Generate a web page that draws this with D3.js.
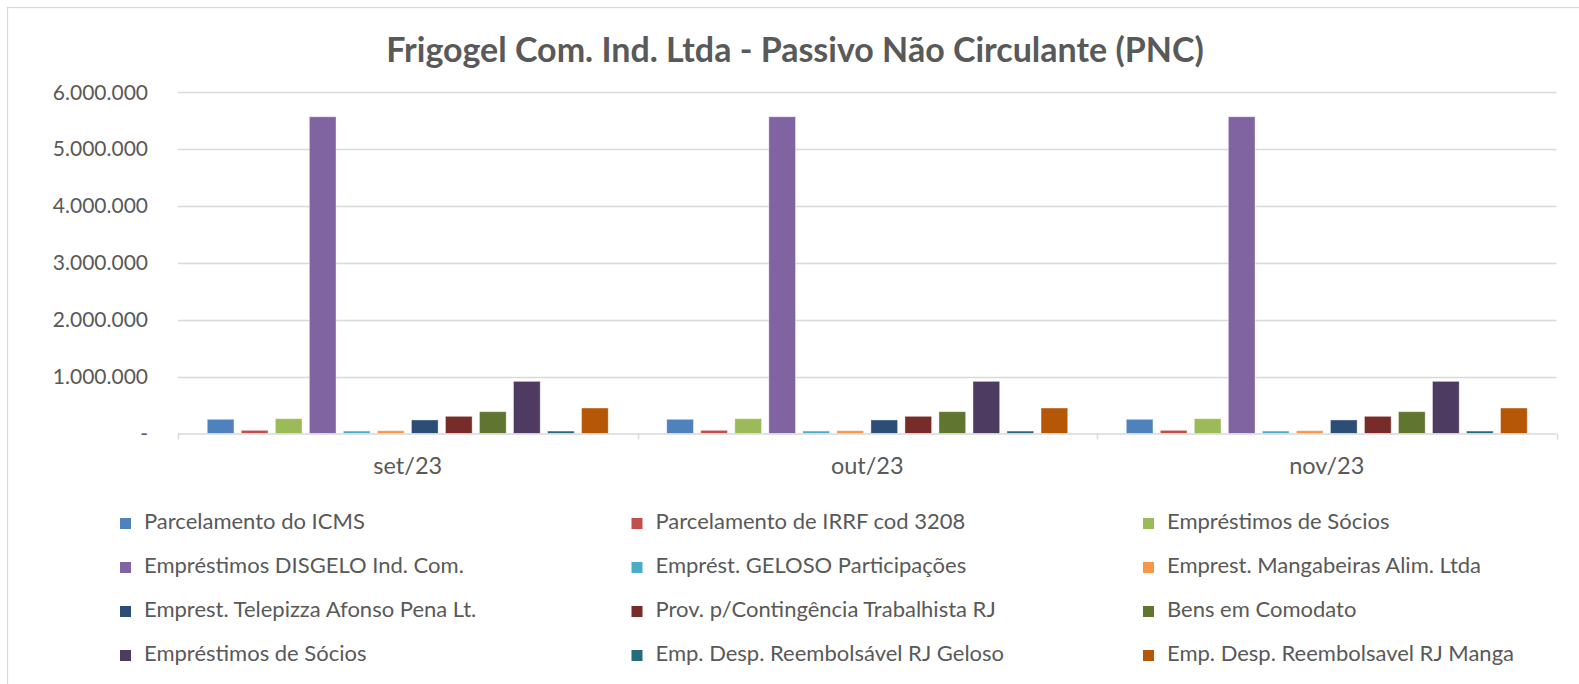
<!DOCTYPE html>
<html>
<head>
<meta charset="utf-8">
<script src="https://cdn.jsdelivr.net/npm/d3@7"></script>
<style>
  body { margin: 0; background: #fff; }
  text { font-family: Lato, "Open Sans", sans-serif; fill: #595959; }
</style>
</head>
<body>
<svg id="chart" width="1579" height="684"></svg>
<script>
// Meses
const meses = ["set/23", "out/23", "nov/23"]

// Contas do passivo (ordem da legenda)
const contas = [
  "Parcelamento do ICMS",
  "Parcelamento de IRRF cod 3208",
  "Empréstimos de Sócios",
  "Empréstimos DISGELO Ind. Com.",
  "Emprést. GELOSO Participações",
  "Emprest. Mangabeiras Alim. Ltda",
  "Emprest. Telepizza Afonso Pena Lt.",
  "Prov. p/Contingência Trabalhista RJ",
  "Bens em Comodato",
  "Empréstimos de Sócios ",
  "Emp. Desp. Reembolsável RJ Geloso",
  "Emp. Desp. Reembolsavel RJ Manga"
]

const cores = ["#4f81bd", "#c0504d", "#9bbb59", "#8064a2", "#4bacc6", "#f79646",
               "#2c4d75", "#772c2a", "#5f7530", "#4d3b62", "#276a7c", "#b65708"]

// Valores por mês (mesma ordem das contas)
const valoresSet = [252000, 58000, 262000, 5570000, 45000, 50000, 240000, 304000, 385000, 919000, 45000, 450000]
const valoresOut = [252000, 58000, 262000, 5570000, 45000, 50000, 240000, 304000, 385000, 919000, 45000, 450000]
const valoresNov = [252000, 58000, 262000, 5570000, 45000, 50000, 240000, 304000, 385000, 919000, 45000, 450000]

const yTicks = [0, 1000000, 2000000, 3000000, 4000000, 5000000, 6000000]

const dados = meses.map((m, i) => ({
  mes: m,
  valores: [valoresSet, valoresOut, valoresNov][i]
}))

const svg = d3.select('#chart')

// moldura
svg.append('rect')
  .attr('x', 7.5).attr('y', 7.5)
  .attr('width', 1600).attr('height', 700)
  .attr('fill', 'none')
  .attr('stroke', '#d9d9d9')
  .attr('stroke-width', 1.3)

// titulo
svg.append('text')
  .text('Frigogel Com. Ind. Ltda - Passivo Não Circulante (PNC)')
  .attr('x', 795)
  .attr('y', 53)
  .attr('text-anchor', 'middle')
  .attr('dominant-baseline', 'middle')
  .attr('font-weight', 'bold')
  .attr('font-size', '34px')

// escalas
const x0 = d3.scaleBand()
  .domain(meses)
  .range([178, 1556.5])

const x1 = d3.scaleBand()
  .domain(d3.range(contas.length))
  .range([0, x0.bandwidth()])
  .paddingInner(0.215)
  .paddingOuter(0.86)

const y = d3.scaleLinear()
  .domain([0, 6000000])
  .range([433.6, 92.3])

const fmt = d => d === 0 ? '-' : d3.format(',')(d).replace(/,/g, '.')

// grade
svg.append('g')
  .selectAll('line')
  .data(yTicks.filter(d => d > 0))
  .join('line')
  .attr('x1', 178).attr('x2', 1556.5)
  .attr('y1', d => Math.round(y(d)) + 0.5)
  .attr('y2', d => Math.round(y(d)) + 0.5)
  .attr('stroke', '#d9d9d9')
  .attr('stroke-width', 1.3)

// eixo y
const yAxis = d3.axisLeft(y)
  .tickValues(yTicks)
  .tickFormat(fmt)
  .tickSize(0)
  .tickPadding(0)

svg.append('g')
  .attr('transform', 'translate(148,0)')
  .call(yAxis)
  .call(g => g.select('.domain').remove())
  .selectAll('text')
  .attr('font-size', '21px')
  .attr('font-family', 'Lato, sans-serif')
  .attr('fill', '#595959')

// barras
svg.append('g')
  .selectAll('g')
  .data(dados)
  .join('g')
  .attr('transform', d => `translate(${x0(d.mes)},0)`)
  .selectAll('rect')
  .data(d => d.valores.map((v, i) => ({ i, v })))
  .join('rect')
  .attr('x', d => x1(d.i))
  .attr('y', d => y(d.v))
  .attr('width', x1.bandwidth())
  .attr('height', d => y(0) - y(d.v))
  .attr('fill', d => cores[d.i])
  .attr('stroke', '#ffffff')
  .attr('stroke-opacity', 0.5)
  .attr('stroke-width', 0.8)

// eixo x
const xAxis = d3.axisBottom(x0)
  .tickSize(0)
  .tickPadding(0)

const gx = svg.append('g')
  .attr('transform', `translate(0,${y(0)})`)
  .call(xAxis)

gx.select('.domain').remove()
gx.append('line')
  .attr('x1', 178).attr('x2', 1556.5)
  .attr('y1', 0.5).attr('y2', 0.5)
  .attr('stroke', '#d9d9d9')
  .attr('stroke-width', 1.5)

// marcas entre categorias
gx.selectAll('.sep')
  .data([...meses.map(m => x0(m)), x0.range()[1]])
  .join('line')
  .attr('class', 'sep')
  .attr('x1', d => Math.round(d) + 0.5)
  .attr('x2', d => Math.round(d) + 0.5)
  .attr('y1', 0).attr('y2', 6)
  .attr('stroke', '#d9d9d9')
  .attr('stroke-width', 1.5)

gx.selectAll('.tick text')
  .attr('y', 34)
  .attr('dy', 0)
  .attr('dominant-baseline', 'middle')
  .attr('font-size', '23.5px')
  .attr('font-family', 'Lato, sans-serif')
  .attr('fill', '#595959')

// legenda
const legenda = svg.append('g')
  .selectAll('g')
  .data(contas)
  .join('g')
  .attr('transform', (d, i) => `translate(${120 + (i % 3) * 511.5},${523.5 + Math.floor(i / 3) * 44})`)

legenda.append('rect')
  .attr('x', 0).attr('y', -5.5)
  .attr('width', 11).attr('height', 11)
  .attr('fill', (d, i) => cores[i])

legenda.append('text')
  .attr('x', 24)
  .attr('y', 0)
  .attr('dominant-baseline', 'middle')
  .attr('font-size', '22px')
  .text(d => d.trim())
</script>
</body>
</html>
